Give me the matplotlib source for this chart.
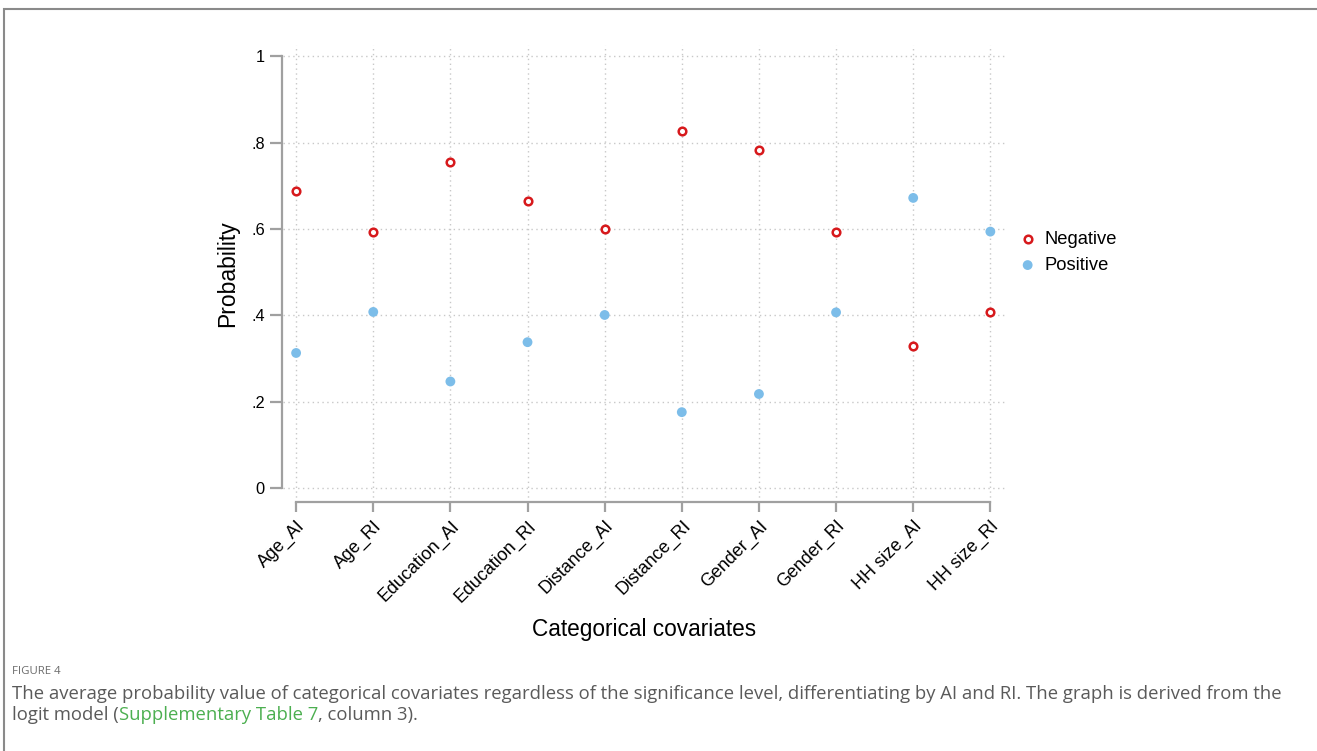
import matplotlib
matplotlib.use("Agg")
import matplotlib.pyplot as plt
from matplotlib.patches import Rectangle

categories = ["Age_AI", "Age_RI", "Education_AI", "Education_RI", "Distance_AI",
              "Distance_RI", "Gender_AI", "Gender_RI", "HH size_AI", "HH size_RI"]
negative = [0.689, 0.593, 0.754, 0.664, 0.601, 0.826, 0.783, 0.594, 0.329, 0.407]
positive = [0.313, 0.408, 0.247, 0.338, 0.401, 0.176, 0.218, 0.407, 0.672, 0.594]
y_ticks = [0, 0.2, 0.4, 0.6, 0.8, 1.0]
y_ticklabels = ["0", ".2", ".4", ".6", ".8", "1"]

W, H = 1317, 751
fig = plt.figure(figsize=(W / 100, H / 100), dpi=100)
plt.rcParams["font.family"] = ["Liberation Sans", "DejaVu Sans"]

# outer frame of the figure panel (open at the right and bottom edges)
fig.patches.append(Rectangle((4 / W, -0.2), 1.2, 1.2 - 9 / H, transform=fig.transFigure,
                             fill=False, edgecolor="#8a8a8a", linewidth=1.5))

left, right, top, bottom = 283, 1005, 45, 502
ax = fig.add_axes([left / W, 1 - bottom / H, (right - left) / W, (bottom - top) / H])

x = list(range(len(categories)))
ax.set_xlim(-0.17, 9.19)
ax.set_ylim(-0.032, 1.026)

gray = "#a0a0a0"
ax.grid(True, color="#c8c8c8", linestyle=(0, (1, 2.5)), linewidth=1.0)
ax.set_axisbelow(True)

ax.scatter(x, negative, s=30, facecolors="white", edgecolors="#d7191c",
           linewidths=1.8, zorder=3, label="Negative")
ax.scatter(x, positive, s=50, color="#7cbde9", edgecolors="none",
           zorder=3, label="Positive")

for s in ["top", "right"]:
    ax.spines[s].set_visible(False)
ax.spines["left"].set_bounds(0, 1)
ax.spines["bottom"].set_bounds(0, 9)
ax.spines["left"].set_position(("outward", 1))
for s in ["left", "bottom"]:
    ax.spines[s].set_color(gray)
    ax.spines[s].set_linewidth(1.6)

ax.set_yticks(y_ticks)
ax.set_yticklabels(y_ticklabels, fontsize=11.8)
ax.set_xticks(x)
ax.set_xticklabels(categories, rotation=45, ha="right", rotation_mode="anchor",
                   fontsize=12.9)
ax.tick_params(axis="y", color=gray, width=1.6, length=9, pad=3)
ax.tick_params(axis="x", color=gray, width=1.6, length=7, pad=4)

ax.set_ylabel("Probability", fontsize=16.5, labelpad=9)
ax.set_xlabel("Categorical covariates", fontsize=16.3, labelpad=9)

leg = ax.legend(loc="center left", bbox_to_anchor=(1.006, 0.546), frameon=False,
                fontsize=13.2, handletextpad=0.3, labelspacing=0.48,
                borderaxespad=0, handlelength=1.2)

# caption
cap_font = "Open Sans"
cap_size = 13.3
fig.text(12 / W, 1 - 672 / H, "FIGURE 4", fontsize=8.2, color="#6b6b6b",
         family=cap_font, va="center")
cap1 = ("The average probability value of categorical covariates regardless of the "
        "significance level, differentiating by AI and RI. The graph is derived from the")
fig.text(12 / W, 1 - 694 / H, cap1, fontsize=cap_size, color="#5a5a5a",
         family=cap_font, va="center")
t1 = fig.text(12 / W, 1 - 715 / H, "logit model (", fontsize=cap_size, color="#5a5a5a",
              family=cap_font, va="center")
fig.canvas.draw()
r = fig.canvas.get_renderer()
bb = t1.get_window_extent(r)
t2 = fig.text(bb.x1 / W, 1 - 715 / H, "Supplementary Table 7", fontsize=cap_size,
              color="#4caf50", family=cap_font, va="center")
bb2 = t2.get_window_extent(r)
fig.text(bb2.x1 / W, 1 - 715 / H, ", column 3).", fontsize=cap_size, color="#5a5a5a",
         family=cap_font, va="center")

fig.savefig("out.png", dpi=100)
